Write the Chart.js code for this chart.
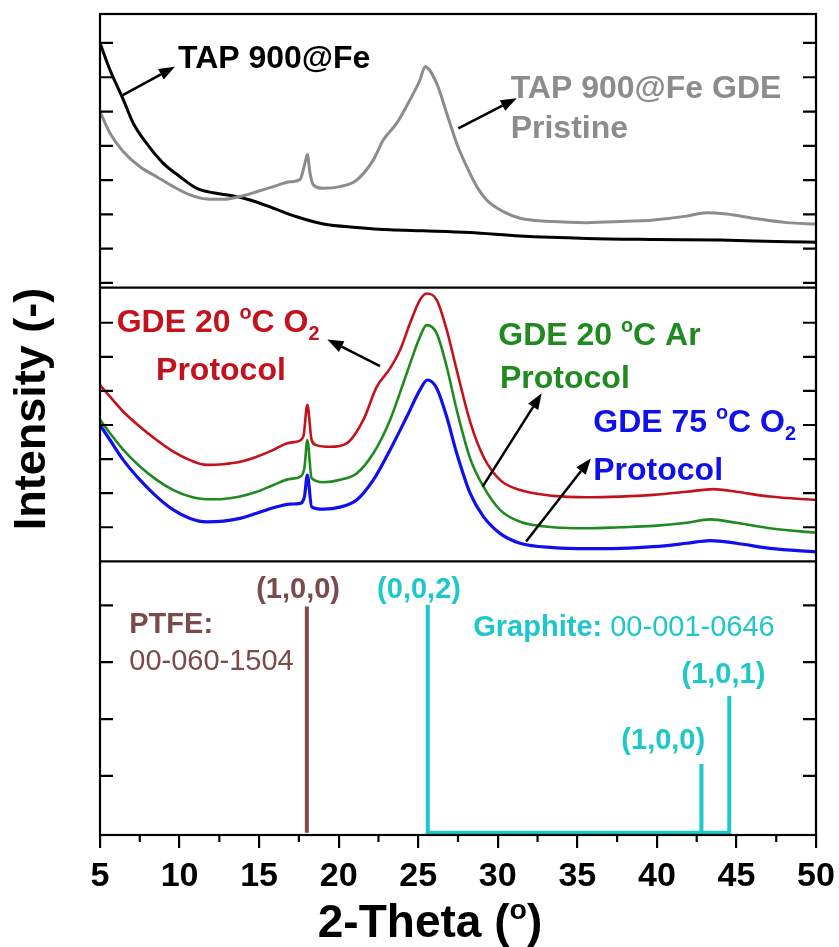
<!DOCTYPE html>
<html>
<head>
<meta charset="utf-8">
<script src="https://cdn.jsdelivr.net/npm/chart.js@4.4.0/dist/chart.umd.min.js"></script>
<style>
  html, body { margin: 0; padding: 0; background: #fff; }
  #wrap { width: 839px; height: 947px; }
</style>
</head>
<body>
<div id="wrap"><canvas id="xrdChart" width="839" height="947"></canvas></div>
<script>
// ---- data (2-Theta in degrees, intensity in arbitrary units) ----
const xTicks = [5, 10, 15, 20, 25, 30, 35, 40, 45, 50];
const xMinorTicks = [7.5, 12.5, 17.5, 22.5, 27.5, 32.5, 37.5, 42.5, 47.5];
const topTicks = [0, 1, 2, 3, 4, 5, 6, 7];
const midTicks = [0, 1, 2, 3, 4, 5, 6];
const botTicks = [20, 40, 60, 80];

// top panel: TAP 900@Fe powder
const tapX = [5, 5.63, 6.47, 7.09, 7.93, 8.98, 10.03, 11.08, 12.12, 13.38, 14.43, 15.9, 17.36, 19.04, 21.13, 23.23, 25.32, 28.26, 31.4, 35.6, 39.8, 44.0, 48.2, 50];
const tapY = [7.0, 6.21, 5.34, 4.66, 4.07, 3.49, 3.10, 2.76, 2.63, 2.54, 2.42, 2.18, 1.93, 1.72, 1.62, 1.55, 1.52, 1.47, 1.37, 1.30, 1.27, 1.25, 1.20, 1.19];

// top panel: TAP 900@Fe GDE pristine
const pristineX = [5, 5.63, 6.47, 7.51, 8.56, 9.61, 10.66, 11.7, 12.75, 13.8, 14.85, 15.9, 16.94, 17.57, 17.88, 18.03, 18.2, 18.41, 19.04, 20.08, 21.13, 22.18, 22.8, 23.65, 24.48, 25.11, 25.43, 26.16, 26.79, 27.42, 28.05, 28.68, 29.3, 30.35, 31.4, 33.5, 35.59, 37.68, 39.78, 41.87, 43.13, 44.39, 46.06, 48.16, 50];
const pristineY = [5.0, 4.37, 3.83, 3.39, 3.10, 2.81, 2.57, 2.45, 2.44, 2.52, 2.66, 2.81, 2.95, 3.02, 3.49, 3.75, 3.2, 2.86, 2.76, 2.81, 3.00, 3.59, 4.17, 4.66, 5.34, 5.92, 6.31, 5.82, 4.95, 4.07, 3.39, 2.81, 2.42, 2.08, 1.89, 1.79, 1.76, 1.79, 1.84, 1.95, 2.05, 2.01, 1.89, 1.76, 1.72];

// middle panel: GDE 20 C O2 protocol
const o2x20 = [5, 5.63, 6.47, 7.51, 8.56, 9.61, 10.66, 11.7, 12.75, 13.8, 14.85, 15.9, 16.73, 17.36, 17.78, 18.03, 18.3, 18.6, 19.46, 20.5, 21.55, 22.39, 23.23, 23.86, 24.48, 25.11, 25.53, 26.16, 26.79, 27.42, 28.26, 29.1, 30.14, 31.4, 33.5, 35.59, 37.68, 39.78, 41.87, 43.55, 45.0, 47.1, 50];
const o2y20 = [4.17, 3.83, 3.39, 2.95, 2.56, 2.22, 1.97, 1.83, 1.85, 1.92, 2.07, 2.27, 2.46, 2.51, 2.66, 3.59, 2.56, 2.41, 2.36, 2.46, 3.15, 4.12, 4.66, 5.20, 5.98, 6.67, 6.86, 6.67, 5.79, 4.61, 3.10, 2.07, 1.39, 1.09, 0.92, 0.88, 0.90, 0.95, 1.04, 1.12, 1.04, 0.90, 0.80];

// middle panel: GDE 20 C Ar protocol
const arX20 = [5, 5.63, 6.47, 7.51, 8.56, 9.61, 10.66, 11.7, 12.75, 13.8, 14.85, 15.9, 16.94, 17.57, 17.85, 18.03, 18.3, 19.04, 20.08, 21.13, 22.18, 23.23, 24.28, 25.11, 25.53, 26.16, 26.79, 27.42, 28.26, 29.1, 30.14, 31.4, 33.5, 35.59, 37.68, 39.78, 41.87, 43.34, 45.0, 47.1, 50];
const arY20 = [3.15, 2.76, 2.27, 1.78, 1.39, 1.09, 0.90, 0.82, 0.83, 0.90, 1.04, 1.24, 1.42, 1.48, 1.75, 2.56, 1.44, 1.32, 1.39, 1.58, 2.17, 3.15, 4.52, 5.59, 5.93, 5.69, 4.71, 3.44, 2.02, 1.19, 0.51, 0.16, 0.00, -0.03, 0.00, 0.04, 0.13, 0.23, 0.13, -0.03, -0.16];

// middle panel: GDE 75 C O2 protocol
const o2x75 = [5, 5.63, 6.47, 7.51, 8.56, 9.61, 10.66, 11.7, 12.75, 13.8, 14.85, 15.9, 16.94, 17.57, 17.85, 18.03, 18.3, 19.04, 20.08, 21.13, 22.18, 23.23, 24.28, 25.11, 25.57, 26.16, 26.79, 27.42, 28.26, 29.1, 30.14, 31.4, 33.5, 35.59, 37.68, 39.78, 41.87, 43.34, 45.0, 47.1, 50];
const o2y75 = [3.0, 2.56, 1.97, 1.39, 0.90, 0.51, 0.26, 0.16, 0.18, 0.26, 0.41, 0.57, 0.68, 0.70, 0.9, 1.53, 0.60, 0.53, 0.59, 0.80, 1.39, 2.27, 3.24, 4.03, 4.32, 4.08, 3.24, 2.17, 1.00, 0.31, -0.18, -0.47, -0.60, -0.63, -0.62, -0.57, -0.47, -0.39, -0.47, -0.62, -0.72];

// bottom panel: reference patterns (relative intensity)
const ptfePos = [18.0];
const ptfeInt = [79.6];
const graphitePos = [25.6, 42.8, 44.55];
const graphiteInt = [80.2, 24.2, 48.1];

// ---- look ----
const FONT = "'Liberation Sans', Arial, sans-serif";
const COL = {
  black: '#000000', gray: '#8c8c8c', red: '#c4121c', green: '#1f8a1f',
  blue: '#1010ee', brown: '#7b4b4b', cyan: '#1ec8ca'
};

const toPoints = (xs, ys) => xs.map((x, i) => ({ x: x, y: ys[i] }));

// stick pattern: each reflection rises from the baseline and drops back
const sticks = (pos, inten) => {
  const out = [];
  pos.forEach((p, i) => {
    out.push({ x: p, y: 0 }, { x: p, y: inten[i] }, { x: p, y: 0 });
  });
  return out;
};

const curve = (data, color, axis, width) => ({
  data: data, yAxisID: axis, borderColor: color, borderWidth: width,
  pointRadius: 0, fill: false, cubicInterpolationMode: 'monotone'
});

const stickSet = (data, color) => ({
  data: data, yAxisID: 'yBot', borderColor: color, borderWidth: 4,
  pointRadius: 0, fill: false, tension: 0, borderJoinStyle: 'miter'
});

// text notes, placed in data coordinates of their own panel
const notes = [
  { axis: 'yTop', x: 9.90, y: 6.27, color: COL.black, size: 32, align: 'left', parts: [{ t: 'TAP 900@Fe', b: true }] },
  { axis: 'yTop', x: 30.81, y: 5.40, color: COL.gray, size: 32, align: 'left', parts: [{ t: 'TAP 900@Fe GDE', b: true }] },
  { axis: 'yTop', x: 30.81, y: 4.23, color: COL.gray, size: 32, align: 'left', parts: [{ t: 'Pristine', b: true }] },
  { axis: 'yMid', x: 6.05, y: 5.74, color: COL.red, size: 32, align: 'left',
    parts: [{ t: 'GDE 20 ', b: true }, { t: 'o', b: true, sup: true }, { t: 'C O', b: true }, { t: '2', b: true, sub: true }] },
  { axis: 'yMid', x: 12.6, y: 4.32, color: COL.red, size: 32, align: 'center', parts: [{ t: 'Protocol', b: true }] },
  { axis: 'yMid', x: 30.03, y: 5.35, color: COL.green, size: 32, align: 'left',
    parts: [{ t: 'GDE 20 ', b: true }, { t: 'o', b: true, sup: true }, { t: 'C Ar', b: true }] },
  { axis: 'yMid', x: 30.14, y: 4.09, color: COL.green, size: 32, align: 'left', parts: [{ t: 'Protocol', b: true }] },
  { axis: 'yMid', x: 36.0, y: 2.80, color: COL.blue, size: 32, align: 'left',
    parts: [{ t: 'GDE 75 ', b: true }, { t: 'o', b: true, sup: true }, { t: 'C O', b: true }, { t: '2', b: true, sub: true }] },
  { axis: 'yMid', x: 36.0, y: 1.39, color: COL.blue, size: 32, align: 'left', parts: [{ t: 'Protocol', b: true }] },
  { axis: 'yBot', x: 17.45, y: 82.7, color: COL.brown, size: 29, align: 'center', parts: [{ t: '(1,0,0)', b: true }] },
  { axis: 'yBot', x: 25.05, y: 82.7, color: COL.cyan, size: 29, align: 'center', parts: [{ t: '(0,0,2)', b: true }] },
  { axis: 'yBot', x: 6.84, y: 70.4, color: COL.brown, size: 29, align: 'left', parts: [{ t: 'PTFE:', b: true }] },
  { axis: 'yBot', x: 6.84, y: 57.4, color: COL.brown, size: 29, align: 'left', parts: [{ t: '00-060-1504', b: false }] },
  { axis: 'yBot', x: 28.46, y: 69.1, color: COL.cyan, size: 29, align: 'left',
    parts: [{ t: 'Graphite:', b: true }, { t: ' 00-001-0646', b: false }] },
  { axis: 'yBot', x: 44.18, y: 52.8, color: COL.cyan, size: 29, align: 'center', parts: [{ t: '(1,0,1)', b: true }] },
  { axis: 'yBot', x: 40.4, y: 29.4, color: COL.cyan, size: 29, align: 'center', parts: [{ t: '(1,0,0)', b: true }] }
];

// arrows: [panel, x1, y1, x2 (head), y2 (head)]
const arrows = [
  ['yTop', 6.43, 5.48, 9.71, 6.31],
  ['yTop', 27.52, 4.51, 31.19, 5.39],
  ['yMid', 22.6, 4.73, 19.29, 5.51],
  ['yMid', 29.05, 1.19, 32.76, 3.93],
  ['yMid', 31.78, -0.42, 35.85, 2.02]
];

// draw a run of text parts with super/subscripts
const drawParts = (ctx, parts, x, y, size, align) => {
  const fontOf = p => (p.b ? 'bold ' : '') + ((p.sup || p.sub) ? size * 0.62 : size) + 'px ' + FONT;
  let total = 0;
  parts.forEach(p => { ctx.font = fontOf(p); total += ctx.measureText(p.t).width; });
  let cx = align === 'center' ? x - total / 2 : x;
  ctx.textAlign = 'left';
  ctx.textBaseline = 'alphabetic';
  parts.forEach(p => {
    ctx.font = fontOf(p);
    let dy = 0;
    if (p.sup) dy = -size * 0.4;
    if (p.sub) dy = size * 0.26;
    ctx.fillText(p.t, cx, y + dy);
    cx += ctx.measureText(p.t).width;
  });
};

const drawArrow = (ctx, x1, y1, x2, y2) => {
  const ang = Math.atan2(y2 - y1, x2 - x1);
  const len = 16, half = 6;
  const bx = x2 - len * Math.cos(ang), by = y2 - len * Math.sin(ang);
  ctx.beginPath();
  ctx.moveTo(x1, y1);
  ctx.lineTo(bx, by);
  ctx.stroke();
  ctx.beginPath();
  ctx.moveTo(x2, y2);
  ctx.lineTo(bx + half * Math.sin(ang), by - half * Math.cos(ang));
  ctx.lineTo(bx - half * Math.sin(ang), by + half * Math.cos(ang));
  ctx.closePath();
  ctx.fill();
};

const framePlugin = {
  id: 'frame',
  afterDatasetsDraw(chart) {
    const { ctx, chartArea: a, scales } = chart;
    ctx.save();
    ctx.strokeStyle = '#000';
    ctx.fillStyle = '#000';
    ctx.lineWidth = 2.2;
    ctx.strokeRect(a.left, a.top, a.right - a.left, a.bottom - a.top);

    // panel separators
    [scales.yTop.bottom, scales.yMid.bottom].forEach(y => {
      ctx.beginPath();
      ctx.moveTo(a.left, y);
      ctx.lineTo(a.right, y);
      ctx.stroke();
    });

    // inward ticks on both vertical axes
    const tickLen = 13;
    [['yTop', topTicks], ['yMid', midTicks], ['yBot', botTicks]].forEach(([id, vals]) => {
      vals.forEach(v => {
        const y = scales[id].getPixelForValue(v);
        ctx.beginPath();
        ctx.moveTo(a.left, y); ctx.lineTo(a.left + tickLen, y);
        ctx.moveTo(a.right, y); ctx.lineTo(a.right - tickLen, y);
        ctx.stroke();
      });
    });

    // minor x ticks, outward
    xMinorTicks.forEach(v => {
      const x = scales.x.getPixelForValue(v);
      ctx.beginPath();
      ctx.moveTo(x, a.bottom); ctx.lineTo(x, a.bottom + 7);
      ctx.stroke();
    });

    // arrows
    ctx.lineWidth = 2.5;
    arrows.forEach(([id, x1, y1, x2, y2]) => {
      drawArrow(ctx,
        scales.x.getPixelForValue(x1), scales[id].getPixelForValue(y1),
        scales.x.getPixelForValue(x2), scales[id].getPixelForValue(y2));
    });

    // notes
    notes.forEach(n => {
      ctx.fillStyle = n.color;
      drawParts(ctx, n.parts, scales.x.getPixelForValue(n.x), scales[n.axis].getPixelForValue(n.y), n.size, n.align);
    });

    // axis titles
    ctx.fillStyle = '#000';
    drawParts(ctx, [{ t: '2-Theta (', b: true }, { t: 'o', b: true, sup: true }, { t: ')', b: true }], 430, 937, 46, 'center');
    ctx.save();
    ctx.translate(45, 409);
    ctx.rotate(-Math.PI / 2);
    drawParts(ctx, [{ t: 'Intensity (-)', b: true }], 0, 0, 45, 'center');
    ctx.restore();

    ctx.restore();
  }
};

const hiddenY = (min, max) => ({
  type: 'linear', position: 'left', stack: 'panels', stackWeight: 1,
  min: min, max: max,
  ticks: { display: false }, grid: { display: false }, border: { display: false },
  afterFit: s => { s.width = 0; }
});

Chart.defaults.font.family = FONT;

new Chart(document.getElementById('xrdChart'), {
  type: 'line',
  data: {
    datasets: [
      curve(toPoints(pristineX, pristineY), COL.gray, 'yTop', 3),
      curve(toPoints(tapX, tapY), COL.black, 'yTop', 3),
      curve(toPoints(o2x20, o2y20), COL.red, 'yMid', 2.6),
      curve(toPoints(arX20, arY20), COL.green, 'yMid', 2.6),
      curve(toPoints(o2x75, o2y75), COL.blue, 'yMid', 3.2),
      stickSet(sticks(ptfePos, ptfeInt), COL.brown),
      stickSet(sticks(graphitePos, graphiteInt), COL.cyan)
    ]
  },
  options: {
    responsive: false,
    devicePixelRatio: 1,
    animation: false,
    layout: { padding: { left: 100, right: 23, top: 14, bottom: 52 } },
    plugins: { legend: { display: false }, tooltip: { enabled: false } },
    scales: {
      x: {
        type: 'linear', min: 5, max: 50,
        afterBuildTicks: s => { s.ticks = xTicks.map(v => ({ value: v })); },
        ticks: { color: '#000', font: { size: 34, weight: 'bold' }, padding: 8, maxRotation: 0, autoSkip: false },
        grid: { display: true, drawOnChartArea: false, drawTicks: true, tickLength: 13, color: '#000', lineWidth: 2.2 },
        border: { display: false },
        afterFit: s => { s.height = 60; s.paddingLeft = 0; s.paddingRight = 0; }
      },
      // stacked panels are laid out from the bottom up
      yBot: hiddenY(-0.8, 95.5),
      yMid: hiddenY(-1.0, 7.03),
      yTop: hiddenY(-0.137, 7.845)
    }
  },
  plugins: [framePlugin]
});
</script>
</body>
</html>
